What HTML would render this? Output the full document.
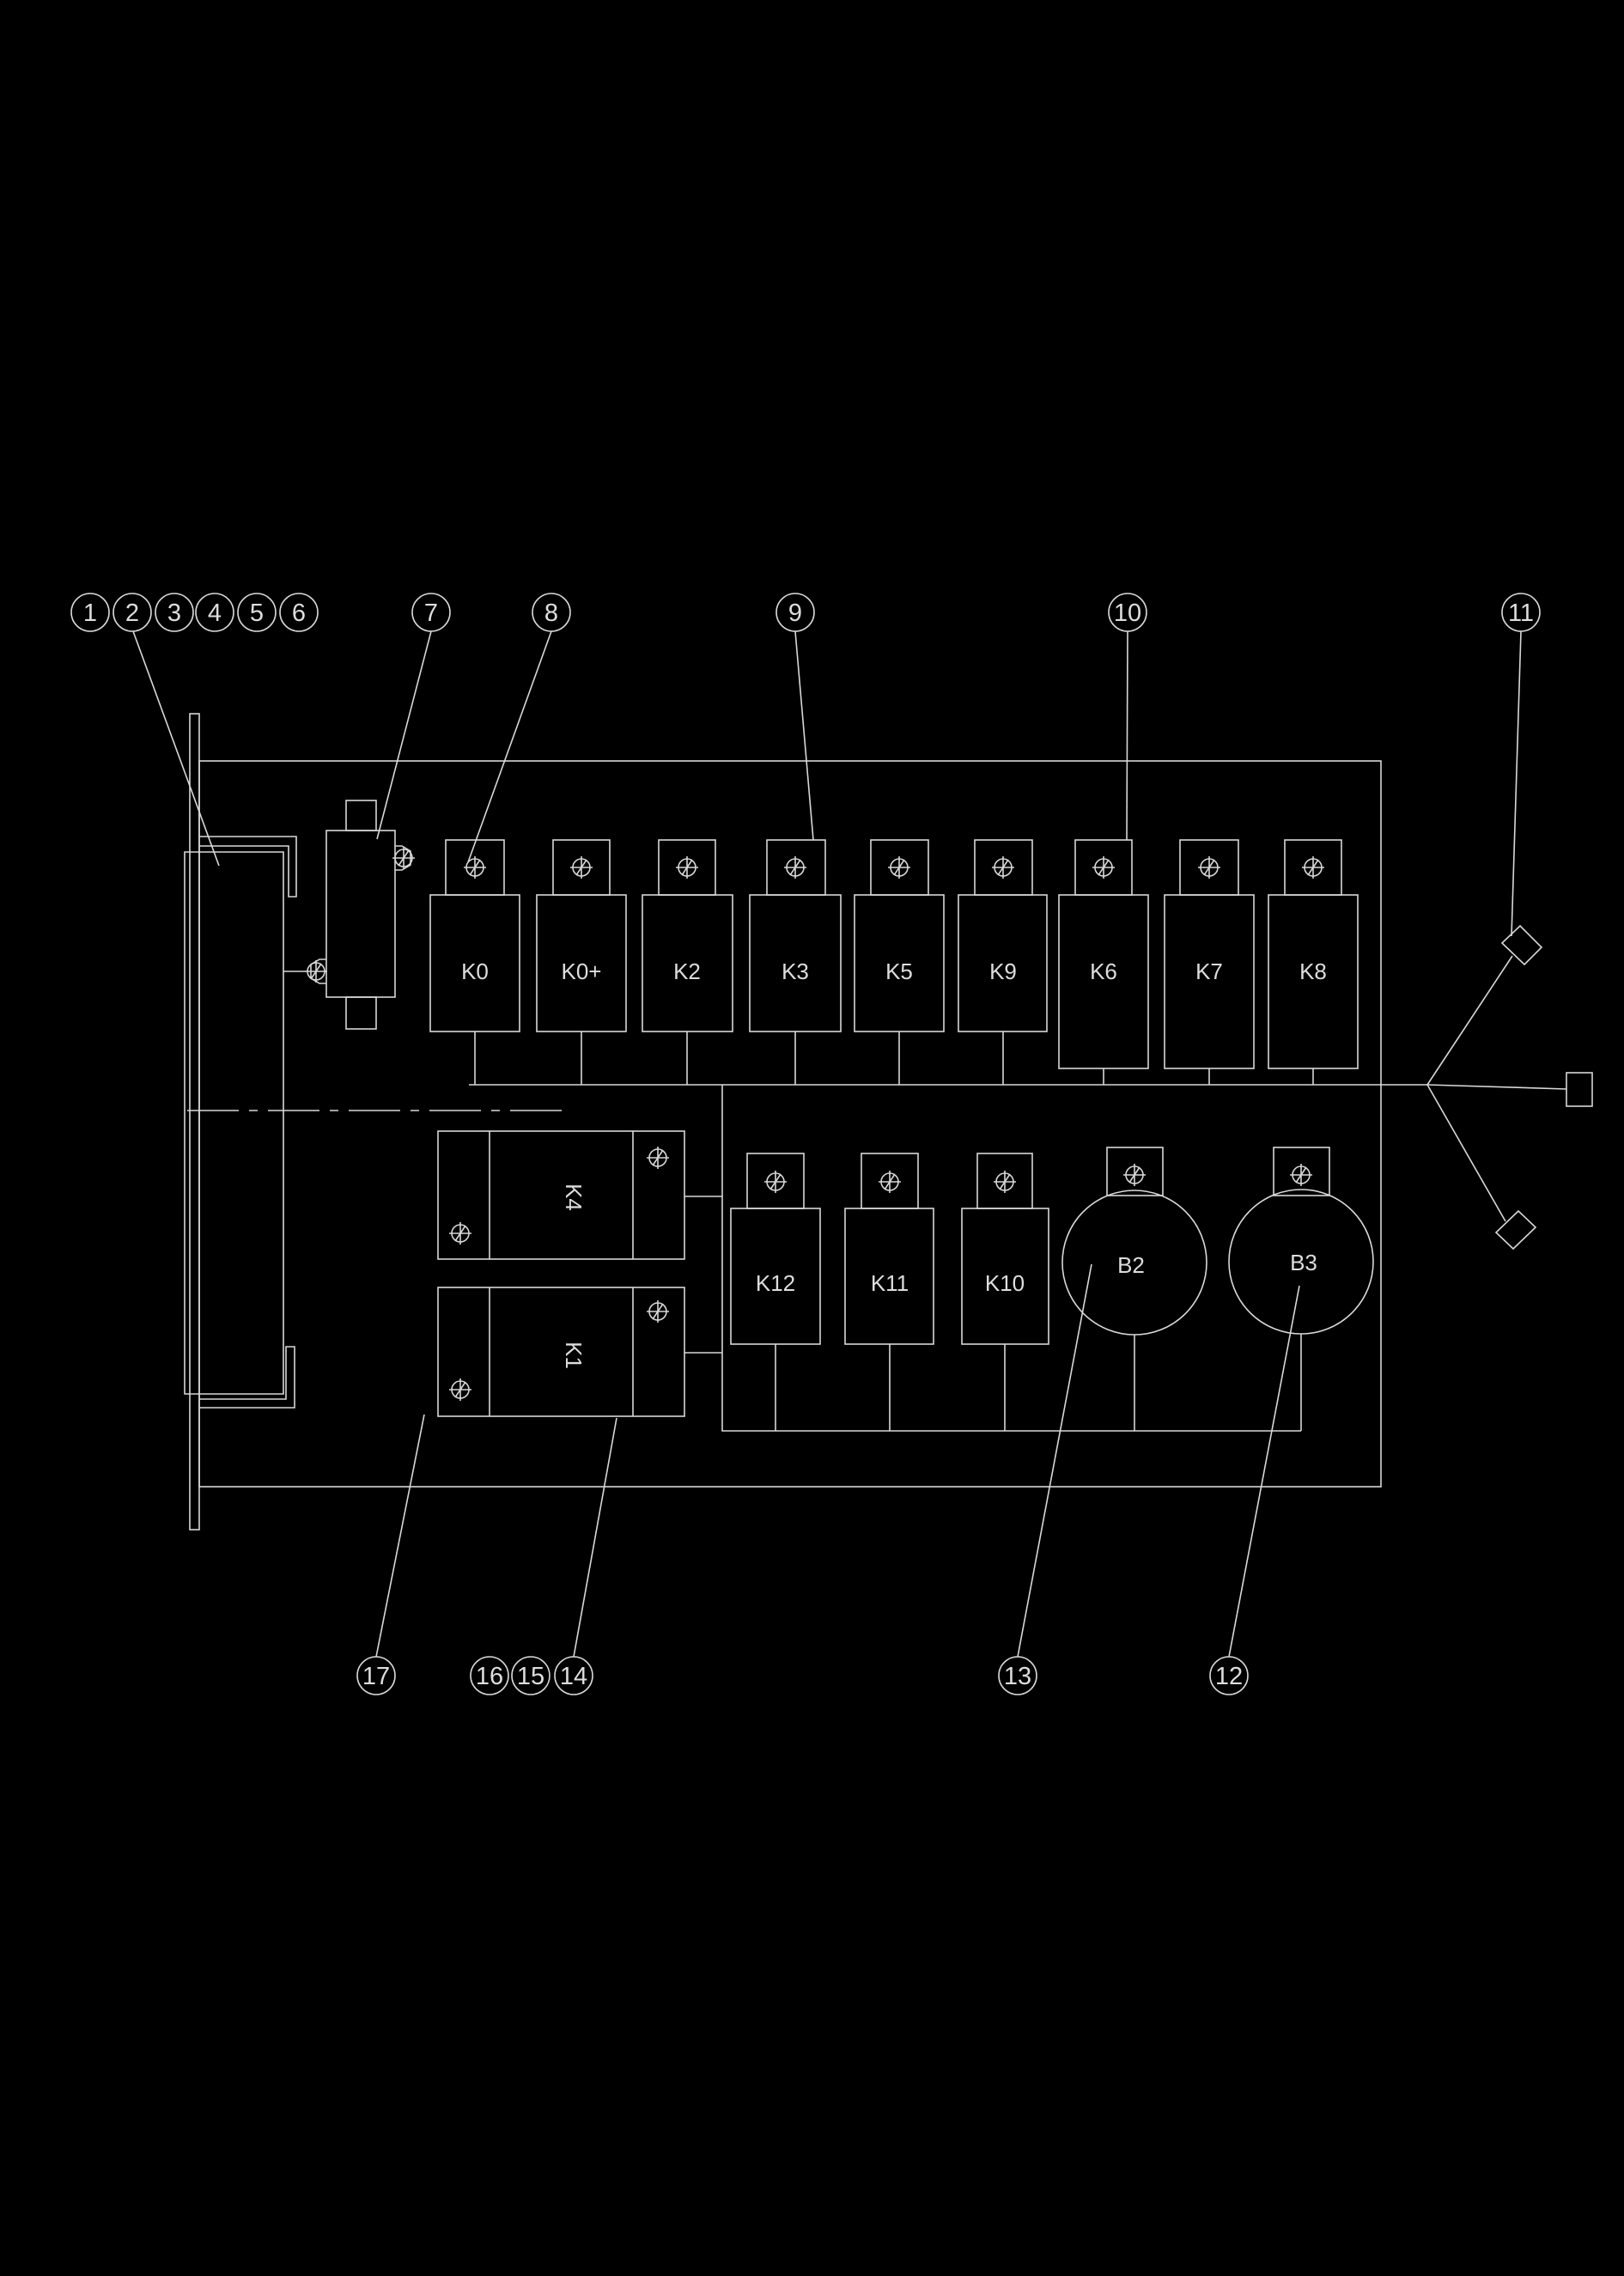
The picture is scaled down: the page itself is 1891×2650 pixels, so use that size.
<!DOCTYPE html>
<html><head><meta charset="utf-8"><style>
html,body{margin:0;padding:0;background:#000;}
svg{display:block}
text{font-family:"Liberation Sans",sans-serif;fill:#ddd;}
</style></head><body>
<svg width="1891" height="2650" viewBox="0 0 1891 2650" xmlns="http://www.w3.org/2000/svg">
<defs>
<g id="scr"><circle r="10" fill="none"/><line x1="-13" y1="0" x2="13" y2="0"/><line x1="0" y1="-13" x2="0" y2="13"/><line x1="-6" y1="9" x2="6" y2="-9"/></g>
</defs>
<g stroke="#d8d8d8" stroke-width="1.6" fill="none">
<!-- balloons top -->
<g font-size="30">
<circle cx="105" cy="713" r="22"/><circle cx="154" cy="713" r="22"/><circle cx="203" cy="713" r="22"/><circle cx="250" cy="713" r="22"/><circle cx="299" cy="713" r="22"/><circle cx="348" cy="713" r="22"/>
<circle cx="502" cy="713" r="22"/><circle cx="642" cy="713" r="22"/><circle cx="926" cy="713" r="22"/><circle cx="1313" cy="713" r="22"/><circle cx="1771" cy="713" r="22"/>
<circle cx="438" cy="1951" r="22"/><circle cx="570" cy="1951" r="22"/><circle cx="618" cy="1951" r="22"/><circle cx="668" cy="1951" r="22"/><circle cx="1185" cy="1951" r="22"/><circle cx="1431" cy="1951" r="22"/>
</g>
<!-- leaders -->
<line x1="155" y1="735" x2="255" y2="1008"/>
<line x1="502" y1="735" x2="439" y2="977"/>
<line x1="642" y1="735" x2="545" y2="1004"/>
<line x1="926" y1="735" x2="947" y2="978"/>
<line x1="1313" y1="735" x2="1312" y2="978"/>
<line x1="1771" y1="735" x2="1760" y2="1090"/>
<line x1="438" y1="1929" x2="494" y2="1647"/>
<line x1="668" y1="1929" x2="718" y2="1651"/>
<line x1="1185" y1="1929" x2="1271" y2="1472"/>
<line x1="1431" y1="1929" x2="1513" y2="1497"/>
<!-- main box -->
<rect x="232" y="886" width="1376" height="845"/>
<rect x="221" y="831" width="11" height="950"/>
<!-- brackets -->
<path d="M232 974 H345 V1044 H336 V985 H232"/>
<path d="M215 992 H330 V1623 H215 Z"/>
<path d="M232 1629 H333 V1568 H343 V1639 H232"/>
<line x1="330" y1="1131" x2="356" y2="1131"/>
<line x1="218" y1="1293" x2="658" y2="1293" stroke-dasharray="60,12,10,12"/>
<!-- component 7 -->
<rect x="380" y="967" width="80" height="194"/>
<rect x="403" y="932" width="35" height="35"/>
<rect x="403" y="1161" width="35" height="37"/>
<path d="M460 985 h8 l10 6 v16 l-10 6 h-8"/>
<use href="#scr" x="470" y="999"/>
<path d="M380 1117 h-8 l-10 6 v16 l10 6 h8"/>
<use href="#scr" x="368" y="1131"/>
<!-- top relays -->
<g>
<rect x="501" y="1042" width="104" height="159"/><rect x="519" y="978" width="68" height="64"/><use href="#scr" x="553" y="1010"/>
<rect x="625" y="1042" width="104" height="159"/><rect x="644" y="978" width="66" height="64"/><use href="#scr" x="677" y="1010"/>
<rect x="748" y="1042" width="105" height="159"/><rect x="767" y="978" width="66" height="64"/><use href="#scr" x="800" y="1010"/>
<rect x="873" y="1042" width="106" height="159"/><rect x="893" y="978" width="68" height="64"/><use href="#scr" x="926" y="1010"/>
<rect x="995" y="1042" width="104" height="159"/><rect x="1014" y="978" width="67" height="64"/><use href="#scr" x="1047" y="1010"/>
<rect x="1116" y="1042" width="103" height="159"/><rect x="1135" y="978" width="67" height="64"/><use href="#scr" x="1168" y="1010"/>
<rect x="1233" y="1042" width="104" height="202"/><rect x="1252" y="978" width="66" height="64"/><use href="#scr" x="1285" y="1010"/>
<rect x="1356" y="1042" width="104" height="202"/><rect x="1374" y="978" width="68" height="64"/><use href="#scr" x="1408" y="1010"/>
<rect x="1477" y="1042" width="104" height="202"/><rect x="1496" y="978" width="66" height="64"/><use href="#scr" x="1529" y="1010"/>
</g>
<!-- bus -->
<line x1="546" y1="1263" x2="1662" y2="1263"/>
<line x1="553" y1="1201" x2="553" y2="1263"/><line x1="677" y1="1201" x2="677" y2="1263"/><line x1="800" y1="1201" x2="800" y2="1263"/><line x1="926" y1="1201" x2="926" y2="1263"/><line x1="1047" y1="1201" x2="1047" y2="1263"/><line x1="1168" y1="1201" x2="1168" y2="1263"/>
<line x1="1285" y1="1244" x2="1285" y2="1263"/><line x1="1408" y1="1244" x2="1408" y2="1263"/><line x1="1529" y1="1244" x2="1529" y2="1263"/>
<!-- right side -->
<line x1="1662" y1="1263" x2="1761" y2="1113"/>
<line x1="1662" y1="1263" x2="1824" y2="1268"/>
<line x1="1662" y1="1263" x2="1753" y2="1422"/>
<polygon points="1770,1078 1795,1103 1775,1123 1749,1098"/>
<rect x="1824" y="1249" width="30" height="39"/>
<polygon points="1768,1410 1788,1429 1762,1454 1742,1435"/>
<!-- lower section -->
<path d="M841 1263 V1666 H1515"/>
<rect x="510" y="1317" width="287" height="149"/><line x1="570" y1="1317" x2="570" y2="1466"/><line x1="737" y1="1317" x2="737" y2="1466"/>
<use href="#scr" x="766" y="1348"/><use href="#scr" x="536" y="1436"/>
<rect x="510" y="1499" width="287" height="150"/><line x1="570" y1="1499" x2="570" y2="1649"/><line x1="737" y1="1499" x2="737" y2="1649"/>
<use href="#scr" x="766" y="1527"/><use href="#scr" x="536" y="1618"/>
<line x1="797" y1="1393" x2="841" y2="1393"/><line x1="797" y1="1575" x2="841" y2="1575"/>
<rect x="851" y="1407" width="104" height="158"/><rect x="870" y="1343" width="66" height="64"/><use href="#scr" x="903" y="1376"/>
<rect x="984" y="1407" width="103" height="158"/><rect x="1003" y="1343" width="66" height="64"/><use href="#scr" x="1036" y="1376"/>
<rect x="1120" y="1407" width="101" height="158"/><rect x="1138" y="1343" width="64" height="64"/><use href="#scr" x="1170" y="1376"/>
<line x1="903" y1="1565" x2="903" y2="1666"/><line x1="1036" y1="1565" x2="1036" y2="1666"/><line x1="1170" y1="1565" x2="1170" y2="1666"/>
<rect x="1289" y="1336" width="65" height="56"/><use href="#scr" x="1321" y="1368"/>
<circle cx="1321" cy="1470" r="84"/>
<rect x="1483" y="1336" width="65" height="56"/><use href="#scr" x="1515" y="1368"/>
<circle cx="1515" cy="1469" r="84"/>
<line x1="1321" y1="1554" x2="1321" y2="1666"/><line x1="1515" y1="1553" x2="1515" y2="1666"/>
</g>
<g font-size="29" text-anchor="middle" dominant-baseline="central">
<text x="105" y="714">1</text><text x="154" y="714">2</text><text x="203" y="714">3</text><text x="250" y="714">4</text><text x="299" y="714">5</text><text x="348" y="714">6</text>
<text x="502" y="714">7</text><text x="642" y="714">8</text><text x="926" y="714">9</text><text x="1313" y="714">10</text><text x="1771" y="714">11</text>
<text x="438" y="1952">17</text><text x="570" y="1952">16</text><text x="618" y="1952">15</text><text x="668" y="1952">14</text><text x="1185" y="1952">13</text><text x="1431" y="1952">12</text>
</g>
<g font-size="26" text-anchor="middle" dominant-baseline="central">
<text x="553" y="1131">K0</text><text x="677" y="1131">K0+</text><text x="800" y="1131">K2</text><text x="926" y="1131">K3</text><text x="1047" y="1131">K5</text><text x="1168" y="1131">K9</text><text x="1285" y="1131">K6</text><text x="1408" y="1131">K7</text><text x="1529" y="1131">K8</text>
<text x="903" y="1494">K12</text><text x="1036" y="1494">K11</text><text x="1170" y="1494">K10</text>
<text x="1317" y="1473">B2</text><text x="1518" y="1470">B3</text>
<text x="668" y="1394" transform="rotate(90 668 1394)">K4</text>
<text x="668" y="1578" transform="rotate(90 668 1578)">K1</text>
</g>
</svg>
</body></html>
